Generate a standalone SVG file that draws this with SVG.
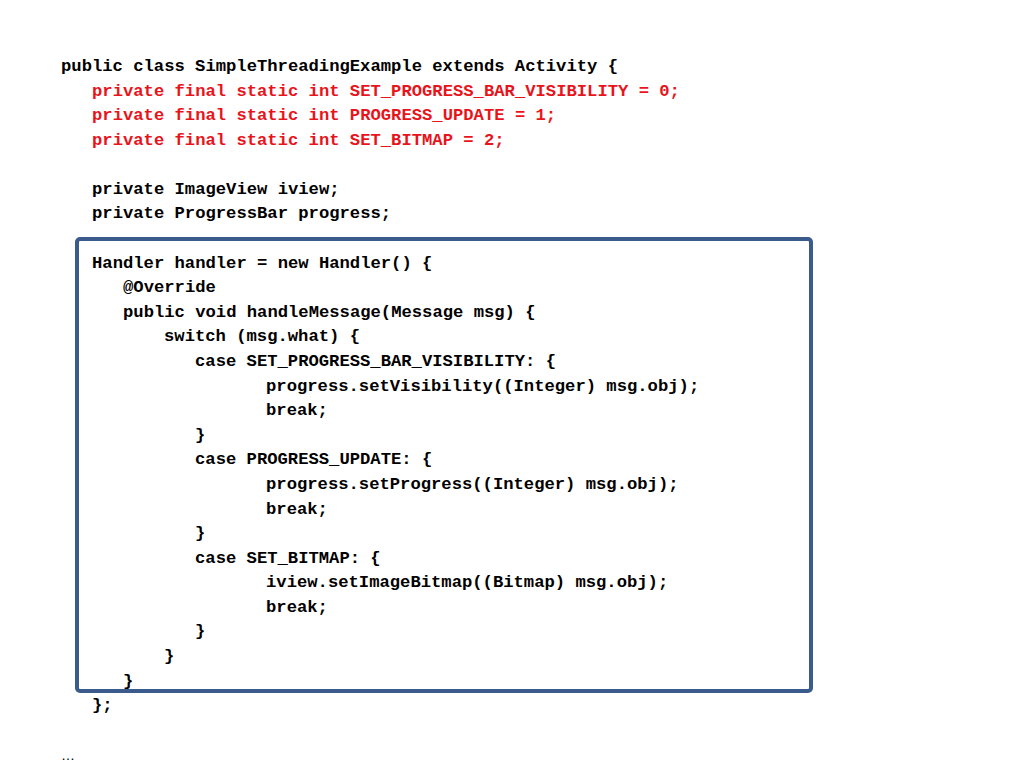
<svg xmlns="http://www.w3.org/2000/svg" width="1024" height="768" viewBox="0 0 1024 768">
<style>
text{font-family:"Liberation Mono","Courier New",monospace;font-weight:bold;font-size:17.2px;fill:#000}
.r{fill:#e8141b}
</style>
<rect width="1024" height="768" fill="#fff"/>
<g id="box"><rect x="77" y="239" width="734" height="452" rx="3" fill="none" stroke="#3b5b8c" stroke-width="4"/></g>
<g id="code">
<text x="61" y="71">public class SimpleThreadingExample extends Activity {</text>
<text class="r" x="92" y="96">private final static int SET_PROGRESS_BAR_VISIBILITY = 0;</text>
<text class="r" x="92" y="120">private final static int PROGRESS_UPDATE = 1;</text>
<text class="r" x="92" y="145">private final static int SET_BITMAP = 2;</text>
<text x="92" y="194">private ImageView iview;</text>
<text x="92" y="218">private ProgressBar progress;</text>
<text x="92" y="268">Handler handler = new Handler() {</text>
<text x="123" y="292">@Override</text>
<text x="123" y="317">public void handleMessage(Message msg) {</text>
<text x="164" y="341">switch (msg.what) {</text>
<text x="195" y="366">case SET_PROGRESS_BAR_VISIBILITY: {</text>
<text x="266" y="391">progress.setVisibility((Integer) msg.obj);</text>
<text x="266" y="415">break;</text>
<text x="195" y="440">}</text>
<text x="195" y="464">case PROGRESS_UPDATE: {</text>
<text x="266" y="489">progress.setProgress((Integer) msg.obj);</text>
<text x="266" y="514">break;</text>
<text x="195" y="538">}</text>
<text x="195" y="563">case SET_BITMAP: {</text>
<text x="266" y="587">iview.setImageBitmap((Bitmap) msg.obj);</text>
<text x="266" y="612">break;</text>
<text x="195" y="636">}</text>
<text x="164" y="661">}</text>
<text x="123" y="686">}</text>
<text x="92" y="710">};</text>
<text x="61" y="760" style="font-family:'Liberation Sans',sans-serif;font-weight:normal;font-size:14px">…</text>
</g>
</svg>
